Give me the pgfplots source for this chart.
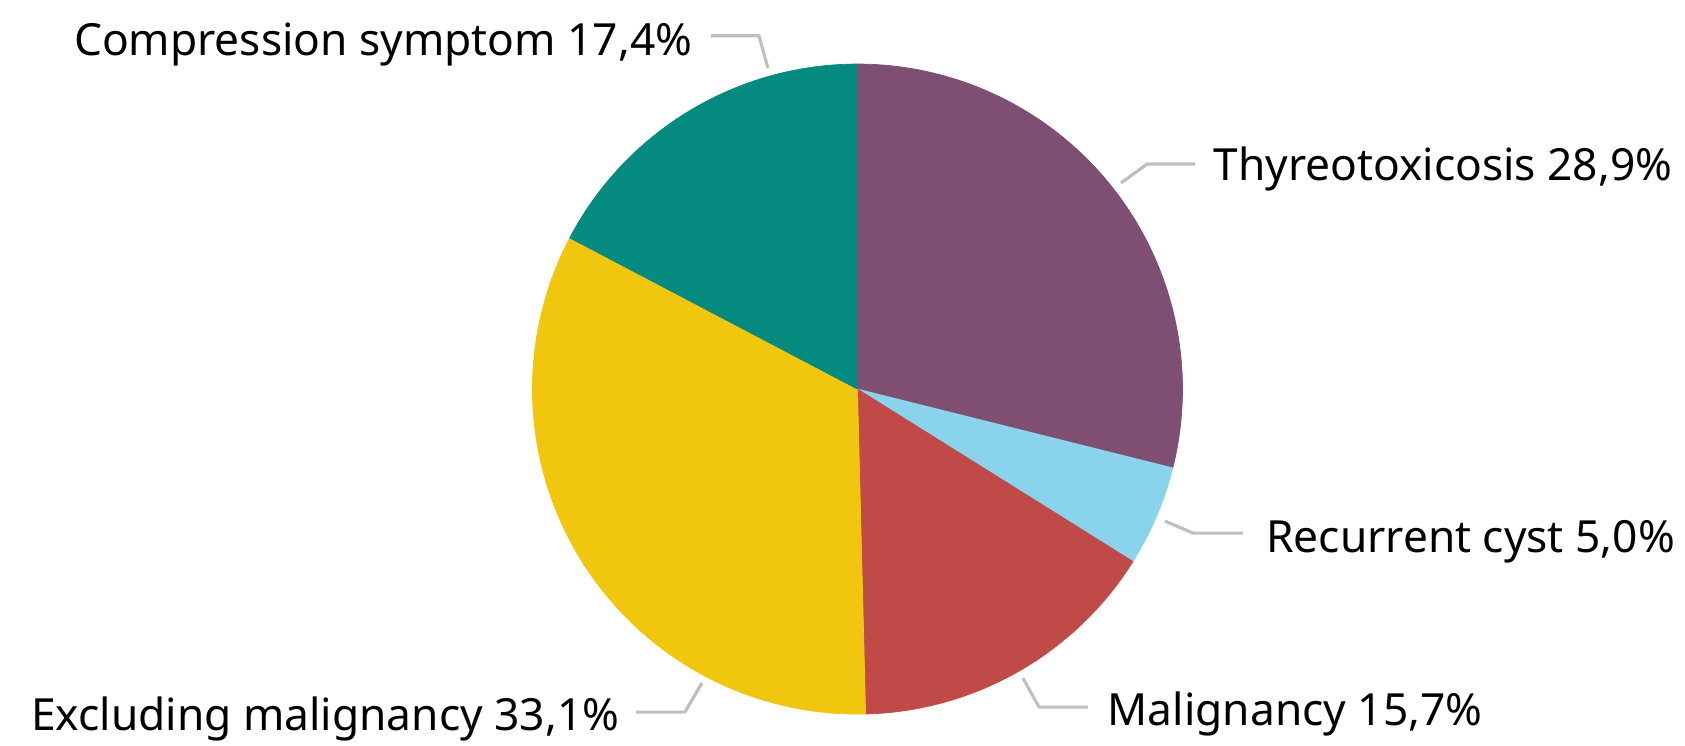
\documentclass[border=0pt]{standalone}
\usepackage{fontspec}
\setmainfont{Noto Sans}
\usepackage{pgfplots}
\pgfplotsset{compat=1.18}
\definecolor{cThy}{HTML}{7E4F72}
\definecolor{cRec}{HTML}{89D4EC}
\definecolor{cMal}{HTML}{C04A48}
\definecolor{cExc}{HTML}{F0C60F}
\definecolor{cCom}{HTML}{048A7F}
\definecolor{cLead}{HTML}{BFBFBF}
% shares in percent
\def\pThy{28.9}\def\pRec{5.0}\def\pMal{15.7}\def\pExc{33.1}\def\pCom{17.4}
\begin{document}
\begin{tikzpicture}
\pgfmathsetmacro{\aA}{90}
\pgfmathsetmacro{\aB}{\aA-3.6*\pThy}
\pgfmathsetmacro{\aC}{\aB-3.6*\pRec}
\pgfmathsetmacro{\aD}{\aC-3.6*\pMal}
\pgfmathsetmacro{\aE}{\aD-3.6*\pExc}
\pgfmathsetmacro{\aF}{-270}
\begin{axis}[
  hide axis, scale only axis, clip=false,
  x=3.25cm, y=3.25cm,
  xmin=-2.638, xmax=2.546, ymin=-1.098, ymax=1.197,
  samples=100,
  every axis plot/.append style={line join=round},
]
\path[use as bounding box] (rel axis cs:0,0) rectangle (rel axis cs:1,1);
\addplot[fill=cThy, draw=cThy, line width=0.2pt, domain=\aB:\aA, variable=\t] ({cos(\t)},{sin(\t)}) -- (axis cs:0,0) -- cycle;
\addplot[fill=cRec, draw=cRec, line width=0.2pt, domain=\aC:\aB, variable=\t] ({cos(\t)},{sin(\t)}) -- (axis cs:0,0) -- cycle;
\addplot[fill=cMal, draw=cMal, line width=0.2pt, domain=\aD:\aC, variable=\t] ({cos(\t)},{sin(\t)}) -- (axis cs:0,0) -- cycle;
\addplot[fill=cExc, draw=cExc, line width=0.2pt, domain=\aE:\aD, variable=\t] ({cos(\t)},{sin(\t)}) -- (axis cs:0,0) -- cycle;
\addplot[fill=cCom, draw=cCom, line width=0.2pt, domain=\aF:\aE, variable=\t] ({cos(\t)},{sin(\t)}) -- (axis cs:0,0) -- cycle;
% leader lines
\addplot[cLead, line width=0.9pt, mark=none] coordinates {(-0.2754,0.9877) (-0.3031,1.0871) (-0.4508,1.0871)};
\addplot[cLead, line width=0.9pt, mark=none] coordinates {(0.8108,0.6338) (0.8908,0.6923) (1.0385,0.6923)};
\addplot[cLead, line width=0.9pt, mark=none] coordinates {(0.9462,-0.4062) (1.0323,-0.4431) (1.1862,-0.4431)};
\addplot[cLead, line width=0.9pt, mark=none] coordinates {(0.5092,-0.8892) (0.5585,-0.9785) (0.7092,-0.9785)};
\addplot[cLead, line width=0.9pt, mark=none] coordinates {(-0.4785,-0.9046) (-0.5308,-0.9938) (-0.6815,-0.9938)};
% labels
\tikzset{lab/.style={font=\fontsize{12.6}{15}\selectfont, inner sep=0pt}}
\node[lab, anchor=base east] at (axis cs:-0.506,1.0277) {Compression symptom 17,4\%};
\node[lab, anchor=base west] at (axis cs:1.0938,0.643) {Thyreotoxicosis 28,9\%};
\node[lab, anchor=base west] at (axis cs:1.2554,-0.5015) {Recurrent cyst 5,0\%};
\node[lab, anchor=base west] at (axis cs:0.7677,-1.0338) {Malignancy 15,7\%};
\node[lab, anchor=base east] at (axis cs:-0.7308,-1.0492) {Excluding malignancy 33,1\%};
\end{axis}
\end{tikzpicture}
\end{document}
